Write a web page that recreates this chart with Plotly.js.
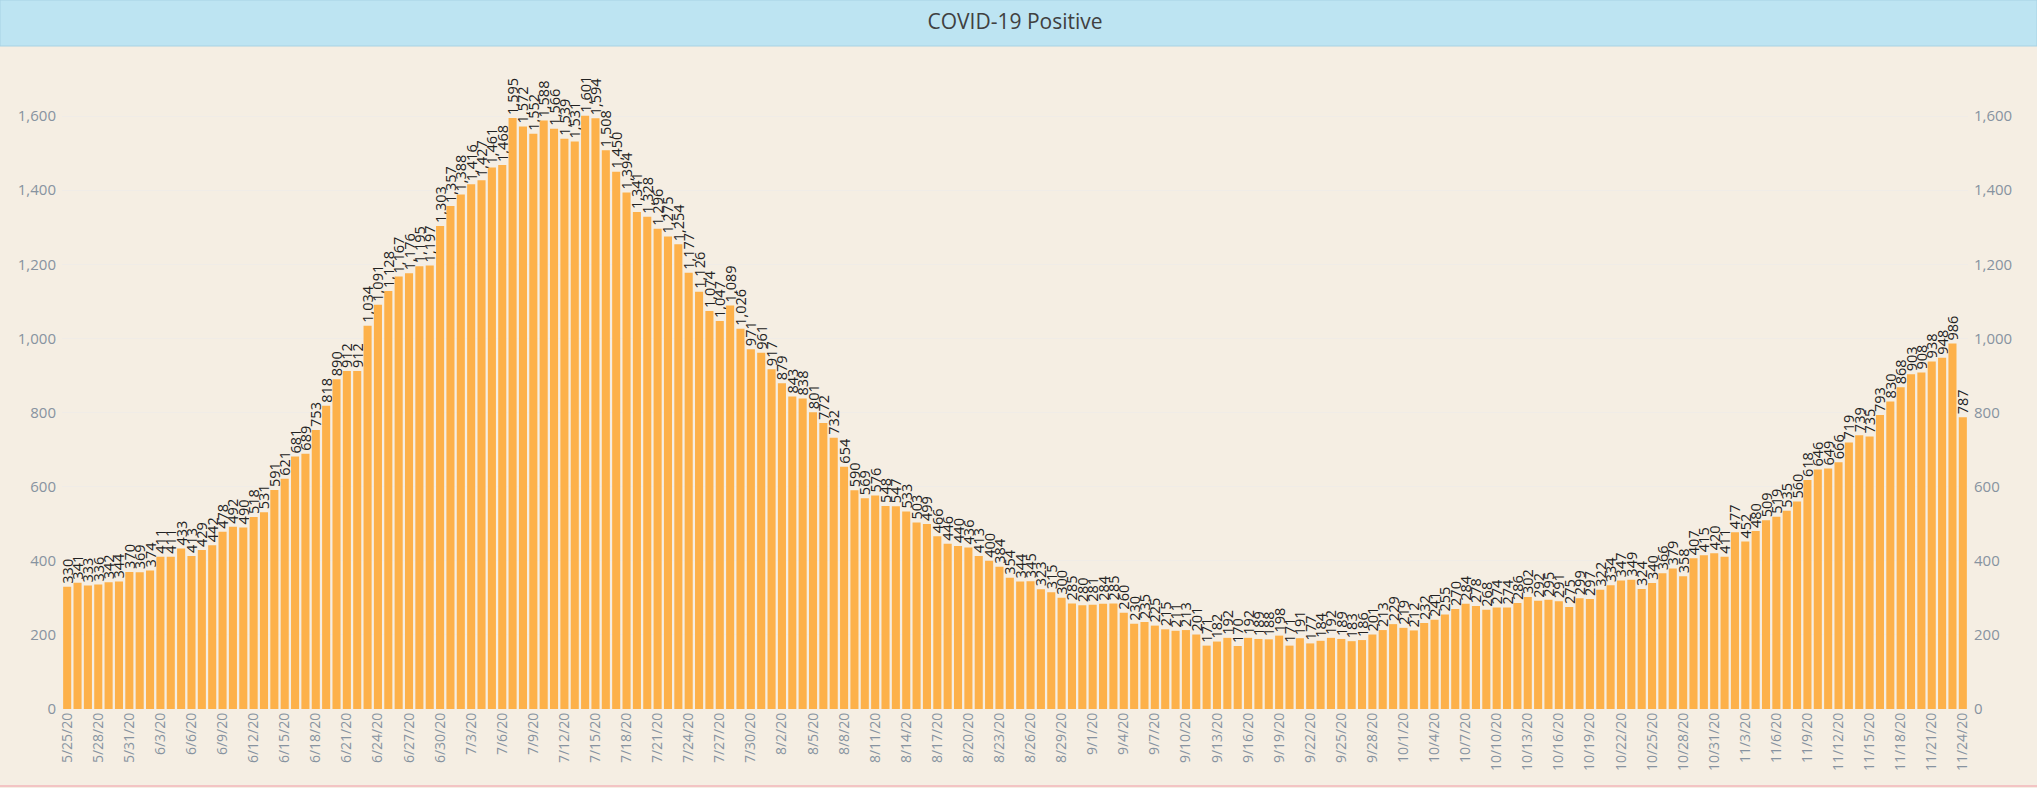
<!DOCTYPE html>
<html><head><meta charset="utf-8">
<script src="https://cdn.plot.ly/plotly-3.0.1.min.js"></script>
<style>html,body{margin:0;padding:0;background:#f5eee3;} #chart{width:2037px;height:788px;}</style>
</head><body><div id="chart"></div>
<script>
const dates = [
"5/25/20","5/26/20","5/27/20","5/28/20","5/29/20","5/30/20","5/31/20",
"6/1/20","6/2/20","6/3/20","6/4/20","6/5/20","6/6/20","6/7/20","6/8/20","6/9/20","6/10/20",
"6/11/20","6/12/20","6/13/20","6/14/20","6/15/20","6/16/20","6/17/20","6/18/20","6/19/20","6/20/20",
"6/21/20","6/22/20","6/23/20","6/24/20","6/25/20","6/26/20","6/27/20","6/28/20","6/29/20","6/30/20",
"7/1/20","7/2/20","7/3/20","7/4/20","7/5/20","7/6/20","7/7/20","7/8/20","7/9/20","7/10/20",
"7/11/20","7/12/20","7/13/20","7/14/20","7/15/20","7/16/20","7/17/20","7/18/20","7/19/20","7/20/20",
"7/21/20","7/22/20","7/23/20","7/24/20","7/25/20","7/26/20","7/27/20","7/28/20","7/29/20","7/30/20","7/31/20",
"8/1/20","8/2/20","8/3/20","8/4/20","8/5/20","8/6/20","8/7/20","8/8/20","8/9/20","8/10/20",
"8/11/20","8/12/20","8/13/20","8/14/20","8/15/20","8/16/20","8/17/20","8/18/20","8/19/20","8/20/20",
"8/21/20","8/22/20","8/23/20","8/24/20","8/25/20","8/26/20","8/27/20","8/28/20","8/29/20","8/30/20","8/31/20",
"9/1/20","9/2/20","9/3/20","9/4/20","9/5/20","9/6/20","9/7/20","9/8/20","9/9/20","9/10/20",
"9/11/20","9/12/20","9/13/20","9/14/20","9/15/20","9/16/20","9/17/20","9/18/20","9/19/20","9/20/20",
"9/21/20","9/22/20","9/23/20","9/24/20","9/25/20","9/26/20","9/27/20","9/28/20","9/29/20","9/30/20",
"10/1/20","10/2/20","10/3/20","10/4/20","10/5/20","10/6/20","10/7/20","10/8/20","10/9/20","10/10/20",
"10/11/20","10/12/20","10/13/20","10/14/20","10/15/20","10/16/20","10/17/20","10/18/20","10/19/20","10/20/20",
"10/21/20","10/22/20","10/23/20","10/24/20","10/25/20","10/26/20","10/27/20","10/28/20","10/29/20","10/30/20","10/31/20",
"11/1/20","11/2/20","11/3/20","11/4/20","11/5/20","11/6/20","11/7/20","11/8/20","11/9/20","11/10/20",
"11/11/20","11/12/20","11/13/20","11/14/20","11/15/20","11/16/20","11/17/20","11/18/20","11/19/20","11/20/20",
"11/21/20","11/22/20","11/23/20","11/24/20"
];

const positives = [
330,341,333,336,342,344,370,369,374,411,411,433,413,429,442,478,
492,490,518,531,591,621,681,689,753,818,890,912,912,1034,1091,
1128,1167,1176,1195,1197,1303,1357,1388,1416,1427,1461,1468,1595,1572,1552,1588,
1566,1539,1531,1601,1594,1508,1450,1394,1341,1328,1296,1275,1254,1177,1126,1074,1047,1089,1026,
971,961,917,879,843,838,801,772,732,654,
590,569,576,548,547,533,503,499,466,446,440,436,413,400,384,354,344,345,323,315,300,
285,280,281,284,285,260,230,235,225,215,211,213,201,
171,182,192,170,192,189,188,198,171,191,177,184,192,189,183,186,
201,213,229,219,212,232,241,255,270,284,278,268,274,
274,286,302,292,295,291,275,299,297,322,334,347,349,324,340,
366,379,358,407,415,420,411,477,452,480,509,519,535,560,618,646,649,666,719,739,735,793,830,868,903,908,938,948,986,787
];

const yTickVals = [0,200,400,600,800,1000,1200,1400,1600];
const xTickVals = dates.filter((d, i) => i % 3 === 0);
const chartTitle = "COVID-19 Positive";

const W = 2037, H = 788;
const M = {l: 62, r: 69, t: 46, b: 79};
const pw = W - M.l - M.r, ph = H - M.t - M.b;
const yMax = 1789;

const barTrace = {
  type: 'bar', x: dates, y: positives,
  marker: {color: '#FDB14A'},
  texttemplate: '%{y:,}', textposition: 'outside', textangle: -90,
  constraintext: 'none', cliponaxis: false,
  textfont: {family: 'Open Sans, sans-serif', size: 14.5, color: '#222222'},
  hoverinfo: 'x+y', showlegend: false
};
const rightAxisTrace = {
  type: 'scatter', mode: 'lines', x: dates, y: positives, yaxis: 'y2',
  line: {width: 0, color: 'rgba(0,0,0,0)'}, hoverinfo: 'skip', showlegend: false
};

const tickFont = {family: 'Open Sans, sans-serif', size: 14, color: '#8793a0'};
const yTickFont = {family: 'Open Sans, sans-serif', size: 15, color: '#8793a0'};

const layout = {
  width: W, height: H,
  margin: M,
  paper_bgcolor: '#f5eee3', plot_bgcolor: '#f5eee3',
  bargap: 0.22,
  title: {text: chartTitle, x: 0.5, xanchor: 'center', xref: 'paper',
          y: 1 - 22 / H, yanchor: 'middle', yref: 'container',
          font: {family: 'Open Sans, sans-serif', size: 21, color: '#404040'}},
  xaxis: {type: 'category', range: [-0.5, dates.length - 0.5],
          tickmode: 'array', tickvals: xTickVals, ticktext: xTickVals,
          tickangle: -90, tickfont: tickFont, showgrid: false, zeroline: false,
          showline: false, ticks: '', automargin: false, fixedrange: true},
  yaxis: {range: [0, yMax], tickmode: 'array', tickvals: yTickVals, tickformat: ',',
          tickfont: yTickFont, ticklabelstandoff: 5, showgrid: true, gridcolor: '#f0ece7', gridwidth: 1,
          zeroline: false, showline: false, ticks: '', automargin: false, fixedrange: true},
  yaxis2: {range: [0, yMax], overlaying: 'y', side: 'right', tickmode: 'array',
           tickvals: yTickVals, tickformat: ',', tickfont: yTickFont, ticklabelstandoff: 5, showgrid: false,
           zeroline: false, showline: false, ticks: '', automargin: false, fixedrange: true},
  shapes: [
    {type: 'rect', xref: 'paper', yref: 'paper', layer: 'below',
     x0: -M.l / pw, x1: (W - M.l) / pw, y0: 1, y1: 1 + M.t / ph,
     fillcolor: '#bde4f2', line: {color: '#a7d2e4', width: 1}},
    {type: 'line', xref: 'paper', yref: 'paper', layer: 'below',
     x0: -M.l / pw, x1: (W - M.l) / pw, y0: -(H - 2 - M.t - ph) / ph, y1: -(H - 2 - M.t - ph) / ph,
     line: {color: '#f3c4c4', width: 2}}
  ]
};

Plotly.newPlot('chart', [barTrace, rightAxisTrace], layout, {displayModeBar: false, staticPlot: true});
</script></body></html>
